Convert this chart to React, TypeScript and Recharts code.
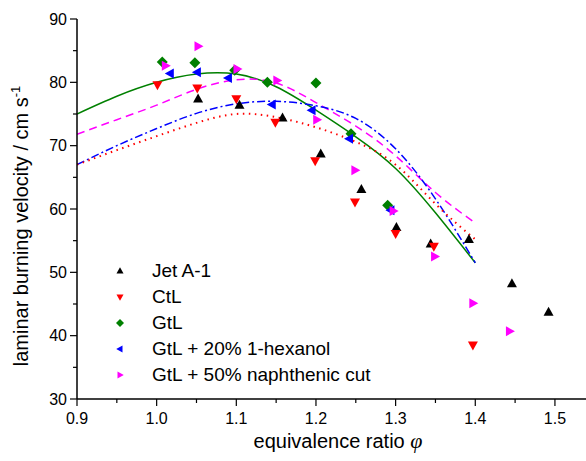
import React from 'react';
import { ComposedChart, Line, Scatter, XAxis, YAxis, Legend } from 'recharts';

// measured points [phi, S_L]
const jetA1 = [
  [1.052, 77.4], [1.104, 76.4], [1.158, 74.4], [1.206, 68.7], [1.257, 63.1],
  [1.301, 57.1], [1.344, 54.5], [1.392, 55.2], [1.446, 48.2], [1.492, 43.7],
];
const ctl = [
  [1.001, 79.6], [1.051, 79.1], [1.1, 77.4], [1.149, 73.7], [1.199, 67.6],
  [1.249, 61.1], [1.3, 56.1], [1.348, 54.1], [1.397, 38.5],
];
const gtl = [
  [1.007, 83.2], [1.048, 83.1], [1.098, 81.9], [1.139, 80.0], [1.2, 79.9],
  [1.244, 71.9], [1.29, 60.6],
];
const gtlHexanol = [
  [1.017, 81.4], [1.051, 81.6], [1.09, 80.7], [1.145, 76.5], [1.195, 75.6],
  [1.242, 71.1], [1.294, 59.8],
];
const gtlNaphthenic = [
  [1.011, 82.6], [1.052, 85.7], [1.101, 82.1], [1.151, 80.3], [1.201, 74.1],
  [1.249, 66.1], [1.297, 59.7], [1.349, 52.5], [1.397, 45.1], [1.443, 40.7],
];

// fitted curves
const fitPhi = [0.9, 0.95, 1.0, 1.05, 1.1, 1.15, 1.2, 1.25, 1.3, 1.35, 1.4];
const fitGtl = [75.0, 77.8, 80.0, 81.3, 81.3, 79.3, 75.6, 71.4, 66.4, 59.4, 51.5];
const fitNaphthenic = [71.8, 74.1, 76.4, 78.9, 80.4, 79.9, 76.8, 73.1, 68.4, 62.6, 57.8];
const fitHexanol = [67.0, 70.0, 72.7, 75.1, 76.6, 77.0, 76.3, 74.3, 69.5, 61.6, 51.5];
const fitCtl = [67.0, 69.3, 71.5, 73.6, 75.0, 74.5, 72.9, 70.6, 67.0, 60.8, 55.2];

const xTicks = [0.9, 0.95, 1.0, 1.05, 1.1, 1.15, 1.2, 1.25, 1.3, 1.35, 1.4, 1.45, 1.5];
const yTicks = [30, 35, 40, 45, 50, 55, 60, 65, 70, 75, 80, 85, 90];

const toPts = (arr: number[][]) => arr.map(([x, y]) => ({ x, y }));
const toCurve = (ys: number[]) => fitPhi.map((x, i) => ({ x, y: ys[i] }));

const PLOT_LEFT = 77;
const PLOT_TOP = 19;
const PLOT_BOTTOM = 399;
const FONT = 'Liberation Sans, Arial, sans-serif';

const isMajor = (v: number) => Math.abs(v * 10 - Math.round(v * 10)) < 1e-6;

type Kind = 'up' | 'down' | 'diamond' | 'left' | 'right';

function markerPoints(kind: Kind, cx: number, cy: number, s: number) {
  const w = s / 2;
  const h = s * 0.9;
  switch (kind) {
    case 'up':
      return `${cx},${cy - h * 0.6} ${cx - w},${cy + h * 0.4} ${cx + w},${cy + h * 0.4}`;
    case 'down':
      return `${cx},${cy + h * 0.6} ${cx - w},${cy - h * 0.4} ${cx + w},${cy - h * 0.4}`;
    case 'left':
      return `${cx - h * 0.6},${cy} ${cx + h * 0.4},${cy - w} ${cx + h * 0.4},${cy + w}`;
    case 'right':
      return `${cx + h * 0.6},${cy} ${cx - h * 0.4},${cy - w} ${cx - h * 0.4},${cy + w}`;
    default:
      return `${cx},${cy - w - 0.5} ${cx + w + 0.5},${cy} ${cx},${cy + w + 0.5} ${cx - w - 0.5},${cy}`;
  }
}

const series: { name: string; color: string; kind: Kind; data: number[][] }[] = [
  { name: 'Jet A-1', color: '#000000', kind: 'up', data: jetA1 },
  { name: 'CtL', color: '#ff0000', kind: 'down', data: ctl },
  { name: 'GtL', color: '#008000', kind: 'diamond', data: gtl },
  { name: 'GtL + 20% 1-hexanol', color: '#0000ff', kind: 'left', data: gtlHexanol },
  { name: 'GtL + 50% naphthenic cut', color: '#ff00ff', kind: 'right', data: gtlNaphthenic },
];

function BottomTick(props: any) {
  const { x, payload } = props;
  const v = payload.value as number;
  const major = isMajor(v);
  return (
    <g>
      <line x1={x} x2={x} y1={PLOT_BOTTOM} y2={PLOT_BOTTOM + (major ? 7 : 4)} stroke="#000" strokeWidth={1.2} />
      {major && (
        <text x={x} y={PLOT_BOTTOM + 25} textAnchor="middle" fontSize={16} fontFamily={FONT} fill="#000">
          {v.toFixed(1)}
        </text>
      )}
    </g>
  );
}

function TopTick(props: any) {
  const { x, payload } = props;
  const major = isMajor(payload.value);
  return <line x1={x} x2={x} y1={PLOT_TOP} y2={PLOT_TOP + (major ? 7 : 4)} stroke="#000" strokeWidth={1.2} />;
}

function LeftTick(props: any) {
  const { y, payload } = props;
  const v = payload.value as number;
  const major = v % 10 === 0;
  return (
    <g>
      <line x1={PLOT_LEFT} x2={PLOT_LEFT - (major ? 7 : 4)} y1={y} y2={y} stroke="#000" strokeWidth={1.2} />
      {major && (
        <text x={PLOT_LEFT - 10} y={y + 5.5} textAnchor="end" fontSize={16} fontFamily={FONT} fill="#000">
          {v}
        </text>
      )}
    </g>
  );
}

function LegendBox() {
  return (
    <div style={{ fontFamily: FONT, fontSize: 19, color: '#000', lineHeight: '26px' }}>
      {series.map((s) => (
        <div key={s.name} style={{ display: 'flex', alignItems: 'center', height: 26 }}>
          <svg width={16} height={16} style={{ marginRight: 24 }}>
            <polygon points={markerPoints(s.kind, 8, 8, 7)} fill={s.color} />
          </svg>
          <span style={{ whiteSpace: 'nowrap' }}>{s.name}</span>
        </div>
      ))}
    </div>
  );
}

export default function App() {
  return (
    <div style={{ position: 'absolute', left: 0, top: 0, width: 586, height: 461, background: '#fff' }}>
      <ComposedChart width={586} height={461} margin={{ top: PLOT_TOP, right: 0, bottom: 0, left: 0 }}>
        <XAxis
          xAxisId="bottom"
          dataKey="x"
          type="number"
          domain={[0.9, 1.539]}
          allowDataOverflow
          ticks={xTicks}
          interval={0}
          height={62}
          tickLine={false}
          tick={<BottomTick />}
          axisLine={{ stroke: '#000', strokeWidth: 1.5 }}
        />
        <XAxis
          xAxisId="top"
          orientation="top"
          dataKey="x"
          type="number"
          domain={[0.9, 1.539]}
          allowDataOverflow
          ticks={xTicks}
          interval={0}
          height={0}
          tickLine={false}
          tick={<TopTick />}
          axisLine={{ stroke: '#000', strokeWidth: 1.5 }}
        />
        <YAxis
          type="number"
          domain={[30, 90]}
          ticks={yTicks}
          interval={0}
          width={PLOT_LEFT}
          tickLine={false}
          tick={<LeftTick />}
          axisLine={{ stroke: '#000', strokeWidth: 1.5 }}
        />
        <Line xAxisId="bottom" data={toCurve(fitGtl)} dataKey="y" type="natural" stroke="#008000" strokeWidth={1.5} dot={false} isAnimationActive={false} />
        <Line xAxisId="bottom" data={toCurve(fitNaphthenic)} dataKey="y" type="natural" stroke="#ff00ff" strokeWidth={1.5} strokeDasharray="8 5" dot={false} isAnimationActive={false} />
        <Line xAxisId="bottom" data={toCurve(fitHexanol)} dataKey="y" type="natural" stroke="#0000ff" strokeWidth={1.5} strokeDasharray="8 3 2 3" dot={false} isAnimationActive={false} />
        <Line xAxisId="bottom" data={toCurve(fitCtl)} dataKey="y" type="natural" stroke="#ff0000" strokeWidth={2} strokeDasharray="1.5 4.5" dot={false} isAnimationActive={false} />
        {series.map((s) => (
          <Scatter
            key={s.name}
            xAxisId="bottom"
            name={s.name}
            data={toPts(s.data)}
            dataKey="y"
            fill={s.color}
            isAnimationActive={false}
            shape={(p: any) => <polygon points={markerPoints(s.kind, p.cx, p.cy, 10)} fill={s.color} />}
          />
        ))}
        <Legend
          layout="vertical"
          align="center"
          verticalAlign="middle"
          content={<LegendBox />}
          wrapperStyle={{ position: 'absolute', left: 112, top: 258, width: 320 }}
        />
        <text
          x={28}
          y={226}
          transform="rotate(-90 28 226)"
          textAnchor="middle"
          fontSize={20}
          fontFamily={FONT}
          fill="#000"
        >
          laminar burning velocity / cm s<tspan dy={-8} fontSize={13}>-1</tspan>
        </text>
        <text x={338} y={448} textAnchor="middle" fontSize={20} fontFamily={FONT} fill="#000">
          equivalence ratio{' '}
          <tspan fontFamily="Liberation Serif, Times New Roman, serif" fontStyle="italic" fontSize={22}>φ</tspan>
        </text>
      </ComposedChart>
    </div>
  );
}
